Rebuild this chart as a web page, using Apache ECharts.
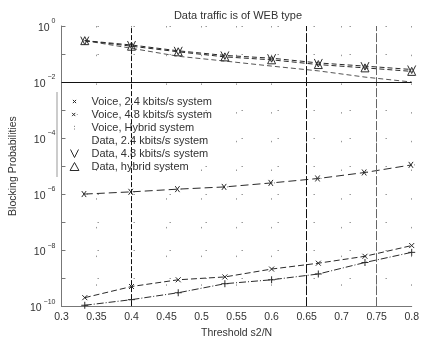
<!DOCTYPE html>
<html>
<head>
<meta charset="utf-8">
<script src="https://cdn.jsdelivr.net/npm/echarts@6/dist/echarts.min.js"></script>
<style>
html, body { margin: 0; padding: 0; background: #fff; }
#chart { width: 422px; height: 344px; }
</style>
</head>
<body>
<div id="chart"></div>
<script>
// threshold values (x)
var thresholds = [0.3333, 0.4, 0.4667, 0.5333, 0.6, 0.6667, 0.7333, 0.8];

// blocking probabilities
var voice24 = [2.0e-10, 5.0e-10, 8.7e-10, 1.1e-9, 2.1e-9, 3.4e-9, 6.0e-9, 1.45e-8];
var voice48 = [1.0e-6, 1.2e-6, 1.5e-6, 1.8e-6, 2.5e-6, 3.6e-6, 5.9e-6, 1.1e-5];
var voiceHybrid = [1.07e-10, 1.7e-10, 3.0e-10, 6.3e-10, 8.7e-10, 1.4e-9, 3.6e-9, 8.3e-9];
var data24 = [0.30, 0.16, 0.083, 0.056, 0.037, 0.025, 0.015, 0.010];
var data48 = [0.30, 0.21, 0.13, 0.089, 0.071, 0.048, 0.037, 0.028];
var dataHybrid = [0.30, 0.19, 0.12, 0.079, 0.062, 0.042, 0.032, 0.024];

// labelled exponents on the y axis and reference lines
var yLabelExponents = [0, -2, -4, -6, -8, -10];
var refX = [0.4, 0.65, 0.75];
var refY = [0.01];

var names = [
    'Voice, 2.4 kbits/s system',
    'Voice, 4.8 kbits/s system',
    'Voice, Hybrid system',
    'Data, 2.4 kbits/s system',
    'Data, 4.8 kbits/s system',
    'Data, hybrid system'
];

var ink = '#2a2a2a';
var crossPath = 'path://M0,0L10,10M10,0L0,10';
var crossDotPath = 'path://M0,0L8,10M8,0L0,10M10,5L11,5';
var plusPath = 'path://M5,0L5,10M2,5L8,5';
var vPath = 'path://M0,0L5,10L10,0';
var triPath = 'path://M5,0L10,9L0,9Z';
// legend icons padded so they stay small
var crossIcon = 'path://M0,0M10,10M3,3L7,7M7,3L3,7';
var crossDotIcon = 'path://M0,0M10,10M2,3L6,7M6,3L2,7M8,5L8.6,5';
var colonIcon = 'path://M0,0M10,10M5,3L5,3.8M5,6.5L5,7.3';

function pairs(arr) {
    return thresholds.map(function (x, i) { return [x, arr[i]]; });
}

function strokeStyle() {
    return { color: 'none', borderColor: ink, borderWidth: 1 };
}

function lineSeries(name, values, symbol, size, dash, color) {
    return {
        name: name,
        type: 'line',
        data: pairs(values),
        symbol: symbol,
        symbolSize: size,
        showSymbol: symbol !== 'none',
        itemStyle: strokeStyle(),
        lineStyle: { color: color || ink, width: 1, type: dash },
        emphasis: { disabled: true },
        animation: false
    };
}

var series = [
    lineSeries(names[0], voice24, crossPath, 5, [6, 3]),
    lineSeries(names[1], voice48, crossDotPath, 6, [8, 4]),
    lineSeries(names[2], voiceHybrid, plusPath, 7, [7, 2, 1, 2]),
    lineSeries(names[3], data24, 'none', 0, [5, 3], '#555'),
    lineSeries(names[4], data48, vPath, 8, [5, 3]),
    lineSeries(names[5], dataHybrid, triPath, 8, [5, 3])
];

series[3].markLine = {
    silent: true,
    symbol: 'none',
    label: { show: false },
    animation: false,
    data: refX.map(function (v, i) {
        return { xAxis: v, lineStyle: { color: i === 2 ? '#666' : '#111', width: 1, type: i === 0 ? [5, 2] : [9, 2] } };
    }).concat(refY.map(function (v) {
        return { yAxis: v, lineStyle: { color: '#111', width: 1, type: 'solid' } };
    }))
};

var legendIcons = [crossIcon, crossDotIcon, colonIcon, 'rect', vPath, triPath];

var chart = echarts.init(document.getElementById('chart'));
chart.setOption({
    backgroundColor: '#fff',
    textStyle: { fontFamily: 'Liberation Sans, Arial, sans-serif' },
    title: {
        text: 'Data traffic is of WEB type',
        left: 233,
        top: 5,
        textAlign: 'center',
        textStyle: { fontSize: 11, fontWeight: 'normal', color: '#333' }
    },
    legend: {
        orient: 'vertical',
        left: 60,
        top: 95,
        padding: 0,
        itemWidth: 24,
        itemHeight: 8,
        itemGap: 0,
        selectedMode: false,
        textStyle: { fontSize: 11, color: '#333', lineHeight: 12 },
        data: names.map(function (n, i) {
            var st = strokeStyle();
            if (legendIcons[i] === 'rect') {
                st = { opacity: 0 };
            }
            return { name: n, icon: legendIcons[i], itemStyle: st };
        })
    },
    graphic: [{
        type: 'line',
        shape: { x1: 57, y1: 92, x2: 57, y2: 177 },
        style: { stroke: '#999', lineWidth: 1 },
        silent: true
    }],
    grid: { left: 53, right: 9, top: 26, bottom: 31 },
    xAxis: {
        type: 'value',
        min: 0.3,
        max: 0.8,
        interval: 0.05,
        name: 'Threshold s2/N',
        nameLocation: 'middle',
        nameGap: 19,
        nameTextStyle: { fontSize: 10.5, color: '#333' },
        axisLine: { show: true, lineStyle: { color: '#777', width: 1 } },
        axisTick: { show: false },
        axisLabel: {
            fontSize: 10.5,
            color: '#333',
            margin: 6,
            formatter: function (v) { return String(+v.toFixed(2)); }
        },
        splitLine: { show: true, lineStyle: { color: '#999', width: 1, type: [1.5, 27.2] } }
    },
    yAxis: {
        type: 'log',
        logBase: 10,
        min: 1e-10,
        max: 1,
        interval: 1,
        name: 'Blocking Probabilities',
        nameLocation: 'middle',
        nameGap: 40,
        nameTextStyle: { fontSize: 10.5, color: '#333' },
        axisLine: { show: true, lineStyle: { color: '#777', width: 1 } },
        axisTick: { show: true, inside: true, length: 4, lineStyle: { color: '#777' } },
        axisLabel: {
            margin: 6,
            color: '#333',
            formatter: function (v) {
                var e = Math.round(Math.log10(v));
                if (yLabelExponents.indexOf(e) < 0) return '';
                return '{b|10}{s|' + (e === 0 ? '0' : '\u2212' + (-e)) + '}';
            },
            rich: {
                b: { fontSize: 10.5, color: '#333', lineHeight: 16, verticalAlign: 'bottom' },
                s: { fontSize: 7, color: '#333', lineHeight: 16, verticalAlign: 'top', padding: [0, 0, 0, 2] }
            }
        },
        splitLine: { show: true, lineStyle: { color: '#999', width: 1, type: [1.5, 34.5] } }
    },
    series: series
});
window.addEventListener('resize', function () { chart.resize(); });
</script>
</body>
</html>
